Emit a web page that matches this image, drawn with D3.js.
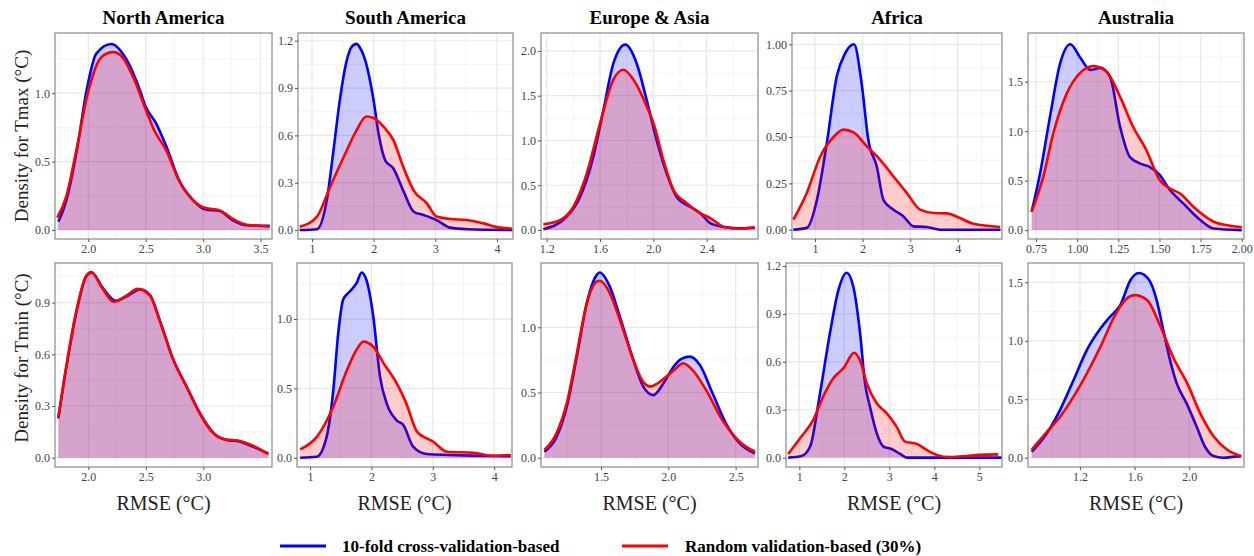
<!doctype html>
<html>
<head>
<meta charset="utf-8"/>
<title>RMSE density</title>
<script src="https://d3js.org/d3.v7.min.js"></script>
<style>
body{margin:0;background:#fff;}
text{font-family:"Liberation Serif","Times New Roman",serif;}
</style>
</head>
<body>
<script>
// regions (columns) and variables (rows)
var regions = ["North America", "South America", "Europe & Asia", "Africa", "Australia"];
var rowLabels = ["Density for Tmax (°C)", "Density for Tmin (°C)"];
var seriesNames = ["10-fold cross-validation-based", "Random validation-based (30%)"];

// axis ranges per panel
var tmaxXDomain = [[1.71, 3.60], [0.773, 4.26], [1.157, 2.785], [0.517, 4.93], [0.701, 2.014]];
var tmaxYDomain = [[-0.066, 1.44], [-0.057, 1.249], [-0.1, 2.2], [-0.05, 1.061], [-0.09, 1.993]];
var tminXDomain = [[1.71, 3.597], [0.788, 4.29], [1.054, 2.666], [0.704, 5.504], [0.820, 2.4]];
var tminYDomain = [[-0.054, 1.13], [-0.067, 1.404], [-0.071, 1.493], [-0.059, 1.219], [-0.079, 1.665]];

// tick values
var tmaxXTicks = [[2.0, 2.5, 3.0, 3.5], [1, 2, 3, 4], [1.2, 1.6, 2.0, 2.4], [1, 2, 3, 4], [0.75, 1.00, 1.25, 1.50, 1.75, 2.00]];
var tmaxYTicks = [[0, 0.5, 1.0], [0, 0.3, 0.6, 0.9, 1.2], [0, 0.5, 1.0, 1.5, 2.0], [0, 0.25, 0.5, 0.75, 1.0], [0, 0.5, 1.0, 1.5]];
var tminXTicks = [[2.0, 2.5, 3.0], [1, 2, 3, 4], [1.5, 2.0, 2.5], [1, 2, 3, 4, 5], [1.2, 1.6, 2.0]];
var tminYTicks = [[0, 0.3, 0.6, 0.9], [0, 0.5, 1.0], [0, 0.5, 1.0], [0, 0.3, 0.6, 0.9, 1.2], [0, 0.5, 1.0, 1.5]];
var tmaxXFmt = [".1f", "d", ".1f", "d", ".2f"];
var tmaxYFmt = [".1f", ".1f", ".1f", ".2f", ".1f"];
var tminXFmt = [".1f", "d", ".1f", "d", ".1f"];
var tminYFmt = [".1f", ".1f", ".1f", ".1f", ".1f"];

// density curves [RMSE, density]  (cv = 10-fold, rv = random 30%)
var naTmaxCv = [[1.74,0.06],[1.81,0.22],[1.90,0.58],[1.985,1.02],[2.07,1.29],[2.20,1.36],[2.33,1.25],[2.45,1.02],[2.50,0.90],[2.59,0.78],[2.68,0.61],[2.79,0.365],[2.91,0.22],[3.02,0.15],[3.14,0.14],[3.26,0.07],[3.37,0.035],[3.58,0.03]];
var naTmaxRv = [[1.73,0.09],[1.81,0.25],[1.90,0.60],[1.99,0.98],[2.08,1.22],[2.16,1.29],[2.22,1.30],[2.30,1.26],[2.40,1.10],[2.50,0.88],[2.58,0.72],[2.68,0.58],[2.79,0.36],[2.91,0.22],[3.02,0.16],[3.14,0.145],[3.26,0.08],[3.37,0.04],[3.58,0.025]];
var saTmaxCv = [[0.80,0],[1.08,0.005],[1.24,0.19],[1.35,0.51],[1.45,0.82],[1.56,1.07],[1.64,1.16],[1.72,1.18],[1.80,1.14],[1.86,1.08],[2.0,0.82],[2.08,0.61],[2.19,0.44],[2.32,0.39],[2.48,0.25],[2.65,0.116],[2.81,0.095],[3.02,0.063],[3.24,0.015],[3.52,0.005],[4.25,0]];
var saTmaxRv = [[0.80,0.02],[1.08,0.085],[1.29,0.27],[1.51,0.46],[1.72,0.63],[1.88,0.72],[2.0,0.71],[2.16,0.655],[2.32,0.57],[2.48,0.40],[2.65,0.25],[2.86,0.17],[3.02,0.085],[3.24,0.07],[3.51,0.063],[3.78,0.042],[4.05,0.015],[4.24,0.01]];
var eaTmaxCv = [[1.175,0.01],[1.35,0.15],[1.45,0.37],[1.55,0.82],[1.625,1.34],[1.70,1.86],[1.79,2.07],[1.875,1.86],[1.95,1.45],[2.025,1.0],[2.10,0.63],[2.175,0.37],[2.275,0.26],[2.35,0.19],[2.43,0.075],[2.55,0.03],[2.65,0.02],[2.76,0.025]];
var eaTmaxRv = [[1.175,0.065],[1.30,0.11],[1.40,0.26],[1.50,0.63],[1.60,1.19],[1.70,1.68],[1.775,1.79],[1.85,1.68],[1.95,1.38],[2.01,1.15],[2.075,0.78],[2.15,0.45],[2.25,0.30],[2.35,0.19],[2.43,0.13],[2.53,0.035],[2.65,0.015],[2.76,0.035]];
var afTmaxCv = [[0.545,0],[0.83,0.01],[1.04,0.16],[1.25,0.47],[1.46,0.83],[1.63,0.95],[1.82,1.0],[1.98,0.79],[2.12,0.485],[2.30,0.34],[2.44,0.16],[2.65,0.108],[2.86,0.072],[3.07,0.018],[3.35,0.015],[3.63,0],[4.9,0]];
var afTmaxRv = [[0.545,0.054],[0.83,0.20],[1.11,0.395],[1.39,0.50],[1.60,0.54],[1.81,0.525],[2.09,0.45],[2.37,0.377],[2.65,0.287],[2.93,0.198],[3.21,0.108],[3.49,0.09],[3.77,0.088],[4.05,0.063],[4.33,0.032],[4.89,0.015]];
var auTmaxCv = [[0.723,0.185],[0.774,0.57],[0.835,1.15],[0.897,1.69],[0.958,1.88],[1.02,1.74],[1.08,1.62],[1.14,1.64],[1.20,1.55],[1.26,1.05],[1.32,0.74],[1.38,0.675],[1.44,0.64],[1.50,0.56],[1.564,0.405],[1.645,0.27],[1.75,0.10],[1.83,0.017],[2.0,0]];
var auTmaxRv = [[0.723,0.185],[0.794,0.54],[0.855,0.98],[0.936,1.38],[1.018,1.59],[1.10,1.66],[1.18,1.60],[1.26,1.35],[1.34,1.045],[1.42,0.81],[1.50,0.51],[1.564,0.42],[1.625,0.37],[1.706,0.236],[1.83,0.084],[1.93,0.044],[2.0,0.03]];

var naTminCv = [[1.739,0.229],[1.81,0.53],[1.90,0.857],[1.98,1.05],[2.03,1.075],[2.12,0.99],[2.24,0.91],[2.33,0.935],[2.45,0.977],[2.536,0.944],[2.62,0.80],[2.74,0.567],[2.855,0.412],[2.97,0.258],[3.09,0.142],[3.20,0.103],[3.32,0.093],[3.43,0.064],[3.565,0.025]];
var naTminRv = [[1.739,0.235],[1.81,0.54],[1.90,0.865],[1.98,1.055],[2.025,1.078],[2.12,0.985],[2.22,0.905],[2.33,0.94],[2.43,0.98],[2.536,0.94],[2.62,0.795],[2.74,0.565],[2.855,0.41],[2.97,0.255],[3.09,0.14],[3.20,0.105],[3.30,0.10],[3.43,0.07],[3.565,0.02]];
var saTminCv = [[0.84,0],[1.11,0.007],[1.27,0.15],[1.38,0.49],[1.46,0.90],[1.54,1.14],[1.65,1.20],[1.76,1.26],[1.84,1.335],[1.92,1.28],[2.03,1.02],[2.14,0.585],[2.25,0.39],[2.41,0.27],[2.52,0.236],[2.68,0.08],[2.90,0.027],[3.27,0.02],[3.65,0.015],[4.27,0.01]];
var saTminRv = [[0.84,0.06],[1.11,0.15],[1.38,0.37],[1.60,0.63],[1.76,0.78],[1.87,0.837],[2.03,0.80],[2.20,0.68],[2.41,0.537],[2.57,0.39],[2.74,0.19],[3.01,0.115],[3.23,0.043],[3.66,0.036],[3.98,0.014],[4.27,0.02]];
var eaTminCv = [[1.079,0.046],[1.17,0.16],[1.245,0.39],[1.32,0.775],[1.393,1.18],[1.467,1.40],[1.49,1.42],[1.566,1.31],[1.64,1.08],[1.74,0.75],[1.814,0.545],[1.888,0.48],[1.963,0.57],[2.04,0.70],[2.10,0.76],[2.16,0.775],[2.235,0.71],[2.33,0.49],[2.43,0.26],[2.53,0.11],[2.643,0.033]];
var eaTminRv = [[1.079,0.06],[1.17,0.19],[1.245,0.417],[1.32,0.80],[1.393,1.18],[1.467,1.35],[1.49,1.357],[1.566,1.26],[1.64,1.056],[1.74,0.75],[1.814,0.58],[1.87,0.545],[1.92,0.57],[2.04,0.67],[2.11,0.724],[2.18,0.672],[2.28,0.52],[2.40,0.29],[2.53,0.123],[2.643,0.046]];
var afTminCv = [[0.755,0],[1.05,0.01],[1.24,0.069],[1.46,0.403],[1.68,0.779],[1.87,1.05],[2.053,1.158],[2.20,1.07],[2.35,0.779],[2.46,0.466],[2.57,0.319],[2.72,0.153],[2.87,0.069],[3.05,0.054],[3.24,0.023],[3.39,0],[5.5,0]];
var afTminRv = [[0.755,0.023],[1.015,0.121],[1.31,0.236],[1.53,0.382],[1.755,0.497],[1.98,0.56],[2.22,0.657],[2.36,0.60],[2.497,0.466],[2.72,0.34],[2.94,0.278],[3.16,0.194],[3.35,0.10],[3.61,0.086],[3.83,0.048],[4.05,0.017],[4.35,0.003],[4.72,0.01],[4.98,0.017],[5.42,0.02]];
var auTminCv = [[0.847,0.051],[0.957,0.208],[1.055,0.41],[1.152,0.66],[1.25,0.92],[1.35,1.105],[1.42,1.205],[1.495,1.305],[1.57,1.52],[1.63,1.58],[1.70,1.53],[1.761,1.348],[1.81,1.09],[1.859,0.835],[1.908,0.636],[1.98,0.465],[2.054,0.265],[2.115,0.094],[2.176,0.015],[2.25,0],[2.33,0.01],[2.38,0.014]];
var auTminRv = [[0.847,0.07],[0.957,0.22],[1.055,0.35],[1.152,0.52],[1.25,0.72],[1.35,0.95],[1.45,1.205],[1.54,1.36],[1.60,1.39],[1.69,1.35],[1.79,1.12],[1.88,0.863],[1.985,0.636],[2.08,0.38],[2.18,0.18],[2.28,0.066],[2.38,0.014]];

var cvCurves = [[naTmaxCv, saTmaxCv, eaTmaxCv, afTmaxCv, auTmaxCv], [naTminCv, saTminCv, eaTminCv, afTminCv, auTminCv]];
var rvCurves = [[naTmaxRv, saTmaxRv, eaTmaxRv, afTmaxRv, auTmaxRv], [naTminRv, saTminRv, eaTminRv, afTminRv, auTminRv]];

// ---------------------------------------------------------------
var W = 1254, H = 556;
var serif = "'Liberation Serif','Times New Roman',serif";
var lineCol = ["#0000ff", "#ff0000"];
var fillCol = ["rgba(0,0,255,0.2)", "rgba(255,0,0,0.2)"];

var rowTop = [33, 263], rowBottom = [239, 467];
var panelLeft = [[55, 298, 541, 792, 1028], [55, 297, 541, 786, 1028]];
var panelRight = [[272, 513, 758, 1002, 1244], [272, 512, 758, 1002, 1244]];

var xDomains = [tmaxXDomain, tminXDomain], yDomains = [tmaxYDomain, tminYDomain];
var xTicks = [tmaxXTicks, tminXTicks], yTicks = [tmaxYTicks, tminYTicks];
var xFmt = [tmaxXFmt, tminXFmt], yFmt = [tmaxYFmt, tminYFmt];

var svg = d3.select("body").append("svg")
    .attr("width", W).attr("height", H);
svg.append("rect").attr("width", W).attr("height", H).attr("fill", "#fff");

function minors(ticks, dom) {
    var step = ticks[1] - ticks[0], out = [];
    for (var v = ticks[0] - step / 2; v <= dom[1]; v += step) {
        if (v >= dom[0]) out.push(v);
    }
    return out;
}

for (var r = 0; r < 2; r++) {
    for (var c = 0; c < 5; c++) {
        drawPanel(r, c);
    }
}

function drawPanel(r, c) {
    var x0 = panelLeft[r][c], x1 = panelRight[r][c];
    var y0 = rowTop[r], y1 = rowBottom[r];
    var x = d3.scaleLinear().domain(xDomains[r][c]).range([x0, x1]);
    var y = d3.scaleLinear().domain(yDomains[r][c]).range([y1, y0]);
    var id = "clip" + r + c;

    svg.append("clipPath").attr("id", id).append("rect")
        .attr("x", x0).attr("y", y0).attr("width", x1 - x0).attr("height", y1 - y0);

    var g = svg.append("g");
    g.append("rect").attr("x", x0).attr("y", y0).attr("width", x1 - x0).attr("height", y1 - y0)
        .attr("fill", "#fff");

    // grid
    var grid = g.append("g").attr("clip-path", "url(#" + id + ")");
    grid.selectAll(".vmin").data(minors(xTicks[r][c], xDomains[r][c])).enter().append("line")
        .attr("x1", d => x(d)).attr("x2", d => x(d)).attr("y1", y0).attr("y2", y1)
        .attr("stroke", "#f2f2f2").attr("stroke-width", 0.8);
    grid.selectAll(".hmin").data(minors(yTicks[r][c], yDomains[r][c])).enter().append("line")
        .attr("y1", d => y(d)).attr("y2", d => y(d)).attr("x1", x0).attr("x2", x1)
        .attr("stroke", "#f2f2f2").attr("stroke-width", 0.8);
    grid.selectAll(".vmaj").data(xTicks[r][c]).enter().append("line")
        .attr("x1", d => x(d)).attr("x2", d => x(d)).attr("y1", y0).attr("y2", y1)
        .attr("stroke", "#e8e8e8").attr("stroke-width", 1.2);
    grid.selectAll(".hmaj").data(yTicks[r][c]).enter().append("line")
        .attr("y1", d => y(d)).attr("y2", d => y(d)).attr("x1", x0).attr("x2", x1)
        .attr("stroke", "#e8e8e8").attr("stroke-width", 1.2);

    var area = d3.area().x(d => x(d[0])).y0(y(0)).y1(d => y(d[1])).curve(d3.curveMonotoneX);
    var line = d3.line().x(d => x(d[0])).y(d => y(d[1])).curve(d3.curveMonotoneX);

    var marks = g.append("g").attr("clip-path", "url(#" + id + ")");
    [cvCurves[r][c], rvCurves[r][c]].forEach(function (pts, k) {
        marks.append("path").datum(pts).attr("d", area).attr("fill", fillCol[k]);
        marks.append("path").datum(pts).attr("d", line).attr("fill", "none")
            .attr("stroke", lineCol[k]).attr("stroke-width", 2.6)
            .attr("stroke-linejoin", "round");
    });

    g.append("rect").attr("x", x0).attr("y", y0).attr("width", x1 - x0).attr("height", y1 - y0)
        .attr("fill", "none").attr("stroke", "#8a8a8a").attr("stroke-width", 1.2);

    var ax = g.append("g").attr("transform", "translate(0," + y1 + ")")
        .call(d3.axisBottom(x).tickValues(xTicks[r][c]).tickFormat(d3.format(xFmt[r][c]))
            .tickSize(3).tickPadding(2));
    var ay = g.append("g").attr("transform", "translate(" + x0 + ",0)")
        .call(d3.axisLeft(y).tickValues(yTicks[r][c]).tickFormat(d3.format(yFmt[r][c]))
            .tickSize(3).tickPadding(2));
    [ax, ay].forEach(function (a) {
        a.attr("font-family", serif).attr("font-size", 12);
        a.select(".domain").remove();
        a.selectAll(".tick line").attr("stroke", "#555");
        a.selectAll(".tick text").attr("fill", "#444")
            .style("font-family", serif).style("font-size", "12px");
    });

    if (r === 0) {
        svg.append("text").attr("x", (x0 + x1) / 2).attr("y", 24)
            .attr("text-anchor", "middle").attr("font-weight", "bold").attr("font-size", 19)
            .text(regions[c]);
    } else {
        svg.append("text").attr("x", (x0 + x1) / 2).attr("y", 510)
            .attr("text-anchor", "middle").attr("font-size", 20).attr("fill", "#222")
            .text("RMSE (°C)");
    }
}

// row labels
[136, 358].forEach(function (cy, i) {
    svg.append("text").attr("transform", "translate(28," + cy + ") rotate(-90)")
        .attr("text-anchor", "middle").attr("font-size", 19).attr("fill", "#222")
        .text(rowLabels[i]);
});

// legend
var legX = [280, 622], legTextX = [342, 685];
seriesNames.forEach(function (s, i) {
    svg.append("line").attr("x1", legX[i]).attr("x2", legX[i] + 46)
        .attr("y1", 546).attr("y2", 546)
        .attr("stroke", lineCol[i]).attr("stroke-width", 3);
    svg.append("text").attr("x", legTextX[i]).attr("y", 552)
        .attr("font-weight", "bold").attr("font-size", 17).text(s);
});
</script>
</body>
</html>
